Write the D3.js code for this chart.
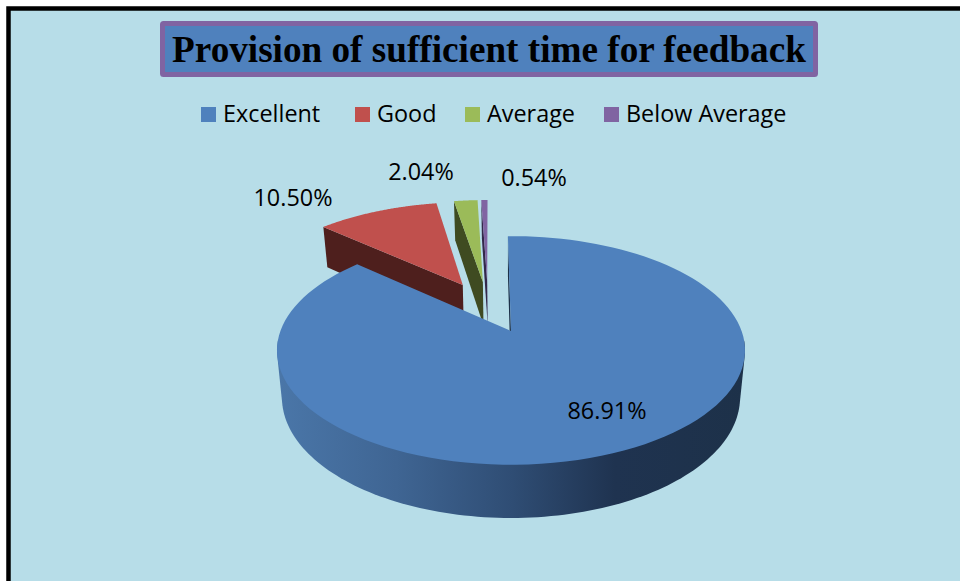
<!DOCTYPE html>
<html>
<head>
<meta charset="utf-8">
<script src="https://cdn.jsdelivr.net/npm/d3@7/dist/d3.min.js"></script>
<style>
  html, body { margin: 0; padding: 0; background: #fff; }
  svg { display: block; }
</style>
</head>
<body>
<div id="chart-area"></div>
<script>
// data
let categories = ["Excellent", "Good", "Average", "Below Average"];
let values = [86.91, 10.50, 2.04, 0.54];
let valueLabels = ["86.91%", "10.50%", "2.04%", "0.54%"];
let topColors = ["#4f81bd", "#c0504d", "#9bbb59", "#8064a2"];
let wallColors = ["#1d3149", "#4e1f1d", "#3f4b21", "#33284a"];
let chartTitle = "Provision of sufficient time for feedback";

let width = 960,
    height = 581;

let svg = d3.select("#chart-area").append("svg")
    .attr("width", width)
    .attr("height", height);

// panel + thick black frame (runs off the right edge)
svg.append("rect").attr("x", 8.5).attr("y", 8.5).attr("width", 970).attr("height", 600)
    .attr("fill", "#b7dde8").attr("stroke", "#000").attr("stroke-width", 4.5);

// title box
svg.append("rect").attr("x", 162.5).attr("y", 23.5).attr("width", 653).attr("height", 51).attr("rx", 1)
    .attr("fill", "#4f81bd").attr("stroke", "#8064a2").attr("stroke-width", 5);
svg.append("text").attr("x", 489).attr("y", 61.5)
    .attr("text-anchor", "middle")
    .style("font-family", "'Liberation Serif', serif")
    .style("font-weight", "bold")
    .style("font-size", "37.2px")
    .text(chartTitle);

let color = d3.scaleOrdinal().domain(categories).range(topColors);

// legend
let legendX = [201, 355, 465, 604];
let legend = svg.selectAll(".legend")
    .data(categories)
    .enter().append("g")
    .attr("class", "legend")
    .attr("transform", function(d, i) { return "translate(" + legendX[i] + ",107)"; });
legend.append("rect").attr("width", 15).attr("height", 15).attr("fill", function(d) { return color(d); });
legend.append("text").attr("x", 22).attr("y", 15)
    .style("font-family", "'Open Sans', sans-serif")
    .style("font-size", "23.4px")
    .text(function(d) { return d; });

// 3D projection. Origin is the tip of the blue slice, k gives the perspective
let ox = 511, oy = 331, k = 0.17;
let explode = 0.25;
let topPlane = { f: 230.6, g: 111, d: 0 },
    lowPlane = { f: 225.7, g: 117, d: 46 };

function project(plane, X, Y) {
  let s = 1 - k * Y;
  return [ox + plane.f * X / s, oy + plane.d + plane.g * Y / s];
}

let rotation = -0.9 * Math.PI / 180;
let arcs = d3.pie().sort(null)
    .startAngle(rotation)
    .endAngle(rotation + 2 * Math.PI)(values);

function offsetOf(a) {
  let mid = (a.startAngle + a.endAngle) / 2;
  return [explode * Math.sin(mid), -explode * Math.cos(mid)];
}
let base = offsetOf(arcs[0]);

// point of slice a at plane coordinates: angle t, radius r
function pt(plane, a, t, r) {
  let o = offsetOf(a);
  return project(plane, o[0] - base[0] + r * Math.sin(t), o[1] - base[1] - r * Math.cos(t));
}

function rim(plane, a, t0, t1) {
  return d3.range(0, 121).map(function(i) {
    return pt(plane, a, t0 + (t1 - t0) * i / 120, 1);
  });
}

let line = d3.line();

function drawTop(a, i) {
  let pts = [pt(topPlane, a, a.startAngle, 0)].concat(rim(topPlane, a, a.startAngle, a.endAngle));
  svg.append("path").attr("d", line(pts) + "Z").attr("fill", topColors[i]);
}

// wall under the start edge of a slice
function drawStartWall(a, i) {
  let pts = [
    pt(topPlane, a, a.startAngle, 1),
    pt(topPlane, a, a.startAngle, 0),
    pt(lowPlane, a, a.startAngle, 0),
    pt(lowPlane, a, a.startAngle, 1)
  ];
  svg.append("path").attr("d", line(pts) + "Z").attr("fill", wallColors[i]);
}

// small slices first, the big blue one is painted over them
[1, 2, 3].forEach(function(i) {
  drawStartWall(arcs[i], i);
  drawTop(arcs[i], i);
});

// blue front wall with a left to right shading
let grad = svg.append("defs").append("linearGradient")
    .attr("id", "wallGrad")
    .attr("gradientUnits", "userSpaceOnUse")
    .attr("x1", 280).attr("x2", 745).attr("y1", 0).attr("y2", 0);
[[0, "#4a76a8"], [0.25, "#3f6593"], [0.5, "#2f4d74"], [0.72, "#1f3350"], [1, "#1d3149"]].forEach(function(s) {
  grad.append("stop").attr("offset", s[0]).attr("stop-color", s[1]);
});

let blue = arcs[0];
// only the front part of the rim: the hull's back edge has to stay under the top face
let wallFrom = 95 * Math.PI / 180, wallTo = 265 * Math.PI / 180;
let wallPts = d3.polygonHull(rim(topPlane, blue, wallFrom, wallTo).concat(rim(lowPlane, blue, wallFrom, wallTo)));
svg.append("path").attr("d", line(wallPts) + "Z").attr("fill", "url(#wallGrad)");
drawStartWall(blue, 0);
drawTop(blue, 0);

// value labels
let labelX = [607, 293, 421, 534],
    labelY = [411, 198, 172, 178];
svg.selectAll(".value")
    .data(valueLabels)
    .enter().append("text")
    .attr("class", "value")
    .attr("x", function(d, i) { return labelX[i]; })
    .attr("y", function(d, i) { return labelY[i] + 8; })
    .attr("text-anchor", "middle")
    .style("font-family", "'Open Sans', sans-serif")
    .style("font-size", "23.4px")
    .text(function(d) { return d; });
</script>
</body>
</html>
